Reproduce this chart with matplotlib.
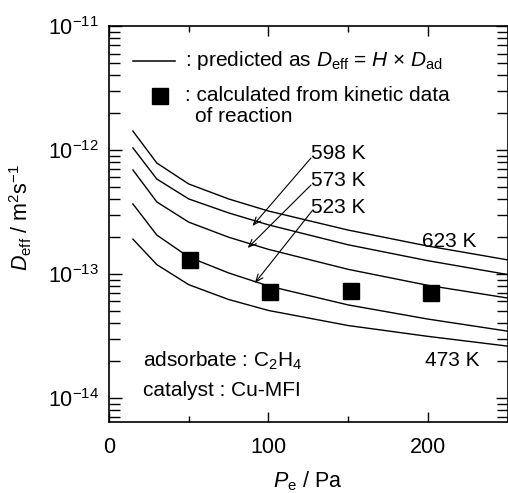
import matplotlib
matplotlib.use("Agg")
import matplotlib.pyplot as plt
from matplotlib.ticker import LogLocator, NullFormatter, MultipleLocator

# ======================
# DATA
# ======================
pressure = [15, 30, 50, 75, 100, 150, 200, 250]          # Pa
d_623 = [1.42e-12, 7.85e-13, 5.32e-13, 4.03e-13, 3.22e-13, 2.26e-13, 1.68e-13, 1.30e-13]
d_598 = [1.04e-12, 5.83e-13, 4.03e-13, 3.11e-13, 2.49e-13, 1.72e-13, 1.28e-13, 9.9e-14]
d_573 = [6.9e-13, 3.81e-13, 2.62e-13, 1.98e-13, 1.58e-13, 1.09e-13, 8.1e-14, 6.4e-14]
d_523 = [3.67e-13, 2.06e-13, 1.37e-13, 1.02e-13, 8.0e-14, 5.63e-14, 4.33e-14, 3.46e-14]
d_473 = [1.91e-13, 1.19e-13, 8.2e-14, 6.23e-14, 5.08e-14, 3.84e-14, 3.14e-14, 2.62e-14]
curves = [d_623, d_598, d_573, d_523, d_473]

kin_p = [51, 101, 152, 202]
kin_d = [1.30e-13, 7.16e-14, 7.3e-14, 7.03e-14]

ytick_vals = [1e-14, 1e-13, 1e-12, 1e-11]
ytick_labels = [r"$10^{-14}$", r"$10^{-13}$", r"$10^{-12}$", r"$10^{-11}$"]

# ======================
# STYLE
# ======================
plt.rcParams["font.family"] = "Liberation Sans"
plt.rcParams["mathtext.fontset"] = "custom"
plt.rcParams["mathtext.rm"] = "Liberation Sans"
plt.rcParams["mathtext.it"] = "Liberation Sans:italic"
plt.rcParams["mathtext.default"] = "regular"

W, H = 508, 493
fig = plt.figure(figsize=(W / 100, H / 100), dpi=100)

# axes box in pixels: left 109, right 507.5, top 26, bottom 422
AX_L, AX_R, AX_T, AX_B = 109, 507.5, 26, 422
ax = fig.add_axes([AX_L / W, 1 - AX_B / H, (AX_R - AX_L) / W, (AX_B - AX_T) / H])


def axf(px, py):
    # pixel position -> axes fraction
    return ((px - AX_L) / (AX_R - AX_L), (AX_B - py) / (AX_B - AX_T))


for d in curves:
    ax.plot(pressure, d, color="black", lw=1.0)
ax.plot(kin_p, kin_d, ls="none", marker="s", ms=11.5, color="black")

ax.set_yscale("log")
ax.set_xlim(0, 250)
ax.set_ylim(6.4e-15, 1e-11)

ax.set_xticks([0, 100, 200])
ax.xaxis.set_minor_locator(MultipleLocator(50))
ax.set_yticks(ytick_vals)
ax.set_yticklabels(ytick_labels)
ax.yaxis.set_minor_locator(LogLocator(base=10, subs=range(2, 10), numticks=20))
ax.yaxis.set_minor_formatter(NullFormatter())

ax.tick_params(which="both", direction="in", top=True, right=True, width=1.0, labelsize=15.5)
ax.tick_params(axis="x", which="major", length=7, pad=11)
ax.tick_params(axis="x", which="minor", length=4)
ax.tick_params(axis="y", which="major", length=9, pad=7)
ax.tick_params(axis="y", which="minor", length=8)
for s in ax.spines.values():
    s.set_linewidth(1.2)

# ======================
# LEGEND (drawn by hand)
# ======================
fs = 15
x0, y0 = axf(133, 61)
x1, _ = axf(175, 61)
ax.plot([x0, x1], [y0, y0], color="black", lw=1.1, transform=ax.transAxes)
ax.text(*axf(185, 66), r": predicted as $\mathit{D}_{eff}$ = $\mathit{H}$ × $\mathit{D}_{ad}$",
        transform=ax.transAxes, fontsize=fs, va="baseline")
ax.plot(*axf(160, 96), marker="s", ms=11.5, color="black", transform=ax.transAxes)
ax.text(*axf(185, 101), ": calculated from kinetic data", transform=ax.transAxes,
        fontsize=fs, va="baseline")
ax.text(*axf(195, 122), "of reaction", transform=ax.transAxes, fontsize=fs, va="baseline")

# ======================
# CURVE LABELS
# ======================
ax.text(*axf(311, 159), "598 K", transform=ax.transAxes, fontsize=fs, va="baseline")
ax.text(*axf(311, 186), "573 K", transform=ax.transAxes, fontsize=fs, va="baseline")
ax.text(*axf(311, 213), "523 K", transform=ax.transAxes, fontsize=fs, va="baseline")
ax.text(*axf(422, 247), "623 K", transform=ax.transAxes, fontsize=fs, va="baseline")
ax.text(*axf(425, 366), "473 K", transform=ax.transAxes, fontsize=fs, va="baseline")

arrow = dict(arrowstyle="->,head_length=0.55,head_width=0.22", color="black", lw=0.8,
             shrinkA=0, shrinkB=0)
ax.annotate("", xy=(90, 2.44e-13), xytext=axf(311, 158), textcoords="axes fraction",
            arrowprops=arrow)
ax.annotate("", xy=(87, 1.62e-13), xytext=axf(311, 185), textcoords="axes fraction",
            arrowprops=arrow)
ax.annotate("", xy=(91.5, 8.45e-14), xytext=axf(312, 211), textcoords="axes fraction",
            arrowprops=arrow)

ax.text(*axf(143, 367), r"adsorbate : C$_2$H$_4$", transform=ax.transAxes, fontsize=fs,
        va="baseline")
ax.text(*axf(143, 396), "catalyst : Cu-MFI", transform=ax.transAxes, fontsize=fs,
        va="baseline")

# ======================
# AXIS LABELS
# ======================
fig.text(308 / W, 1 - 487 / H, r"$\mathit{P}_e$ / Pa", fontsize=15.5, ha="center", va="baseline")
fig.text(21 / W, 1 - 217 / H, r"$\mathit{D}_{eff}$ / m$^2$s$^{-1}$", fontsize=15.5,
         rotation=90, ha="center", va="center")

fig.savefig("out.png", dpi=100)
